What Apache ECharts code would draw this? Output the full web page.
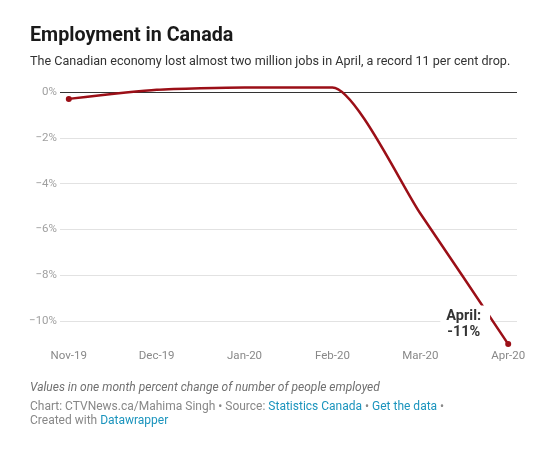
<!DOCTYPE html>
<html>
<head>
<meta charset="utf-8">
<script src="https://cdn.jsdelivr.net/npm/echarts@6/dist/echarts.min.js"></script>
<style>
  html, body { margin: 0; padding: 0; background: #fff; }
  #chart { width: 555px; height: 452px; }
</style>
</head>
<body>
<div id="chart"></div>
<script>
(function() {
    // 月份与每月就业变化（%）
    var months = ["Nov-19", "Dec-19", "Jan-20", "Feb-20", "Mar-20", "Apr-20"];
    var changes = [-0.3, 0.1, 0.2, 0.2, -5.3, -11.0];
    var yTicks = [-12, -10, -8, -6, -4, -2, 0];

    var red = "#9b0f17";
    var font = "Roboto";

    // 组合成 [x, y] 数据
    var points = months.map(function(m, i) {
        return [i, changes[i]];
    });

    // 分割线颜色：最下面隐藏，0 线为黑色
    var splitColors = yTicks.map(function(v, i) {
        if (i == 0) return "rgba(0,0,0,0)";
        if (v == 0) return "#333333";
        return "#e2e2e2";
    });

    var myChart = echarts.init(document.getElementById("chart"));
    var option = {
        animation: false,
        textStyle: { fontFamily: font },
        title: [{
            text: "Employment in Canada",
            left: 30,
            top: 26,
            padding: 0,
            textStyle: { fontFamily: font, fontSize: 19.7, fontWeight: "bold", color: "#1a1a1a" }
        }, {
            text: "The Canadian economy lost almost two million jobs in April, a record 11 per cent drop.",
            left: 30,
            top: 55,
            padding: 0,
            textStyle: { fontFamily: font, fontSize: 12.6, fontWeight: "normal", color: "#333" }
        }, {
            text: "Values in one month percent change of number of people employed",
            left: 30,
            top: 382,
            padding: 0,
            textStyle: { fontFamily: font, fontSize: 12, fontStyle: "italic", fontWeight: "normal", color: "#707070" }
        }, {
            text: "Chart: CTVNews.ca/Mahima Singh • Source: {a|Statistics Canada} • {a|Get the data} •\nCreated with {a|Datawrapper}",
            left: 30,
            top: 400,
            padding: 0,
            textStyle: {
                fontFamily: font, fontSize: 12, fontWeight: "normal", color: "#888", lineHeight: 14,
                rich: { a: { fontFamily: font, fontSize: 12, color: "#1b94bd", lineHeight: 14 } }
            }
        }],
        grid: {
            left: 60,
            right: 38,
            top: 92,
            bottom: 85
        },
        xAxis: {
            type: "value",
            min: -0.1,
            max: 5.1,
            splitLine: { show: false },
            axisLine: { show: false },
            axisTick: { show: false },
            axisLabel: {
                customValues: [0, 1, 2, 3, 4, 5],
                margin: -17,
                fontFamily: font,
                fontSize: 11.5,
                color: "#888",
                formatter: function(v) { return months[Math.round(v)]; }
            }
        },
        yAxis: {
            type: "value",
            min: -12,
            max: 0,
            interval: 2,
            axisLine: { show: false },
            axisTick: { show: false },
            splitLine: { lineStyle: { color: splitColors, width: 1 } },
            axisLabel: {
                margin: 3,
                fontFamily: font,
                fontSize: 11.5,
                color: "#a0a0a0",
                formatter: function(v) {
                    if (v == -12) return "";
                    if (v == 0) return "0%";
                    return "\u2212" + Math.abs(v) + "%";
                }
            }
        },
        series: [{
            type: "line",
            data: points,
            clip: false,
            smooth: 0.2,
            symbol: "circle",
            symbolSize: function(val, p) {
                return (p.dataIndex == 0 || p.dataIndex == points.length - 1) ? 6 : 0;
            },
            itemStyle: { color: red },
            lineStyle: { color: red, width: 2.5 },
            label: {
                show: true,
                position: "inside",
                offset: [-43, -20],
                align: "center",
                fontFamily: font,
                fontSize: 14.5,
                fontWeight: "bold",
                color: "#333",
                lineHeight: 16,
                backgroundColor: "#fff",
                padding: [3, 9, 2, 6],
                formatter: function(p) {
                    return p.dataIndex == points.length - 1 ? "April:\n" + Math.round(p.value[1]) + "%" : "";
                }
            }
        }]
    };
    myChart.setOption(option);
})();
</script>
</body>
</html>
